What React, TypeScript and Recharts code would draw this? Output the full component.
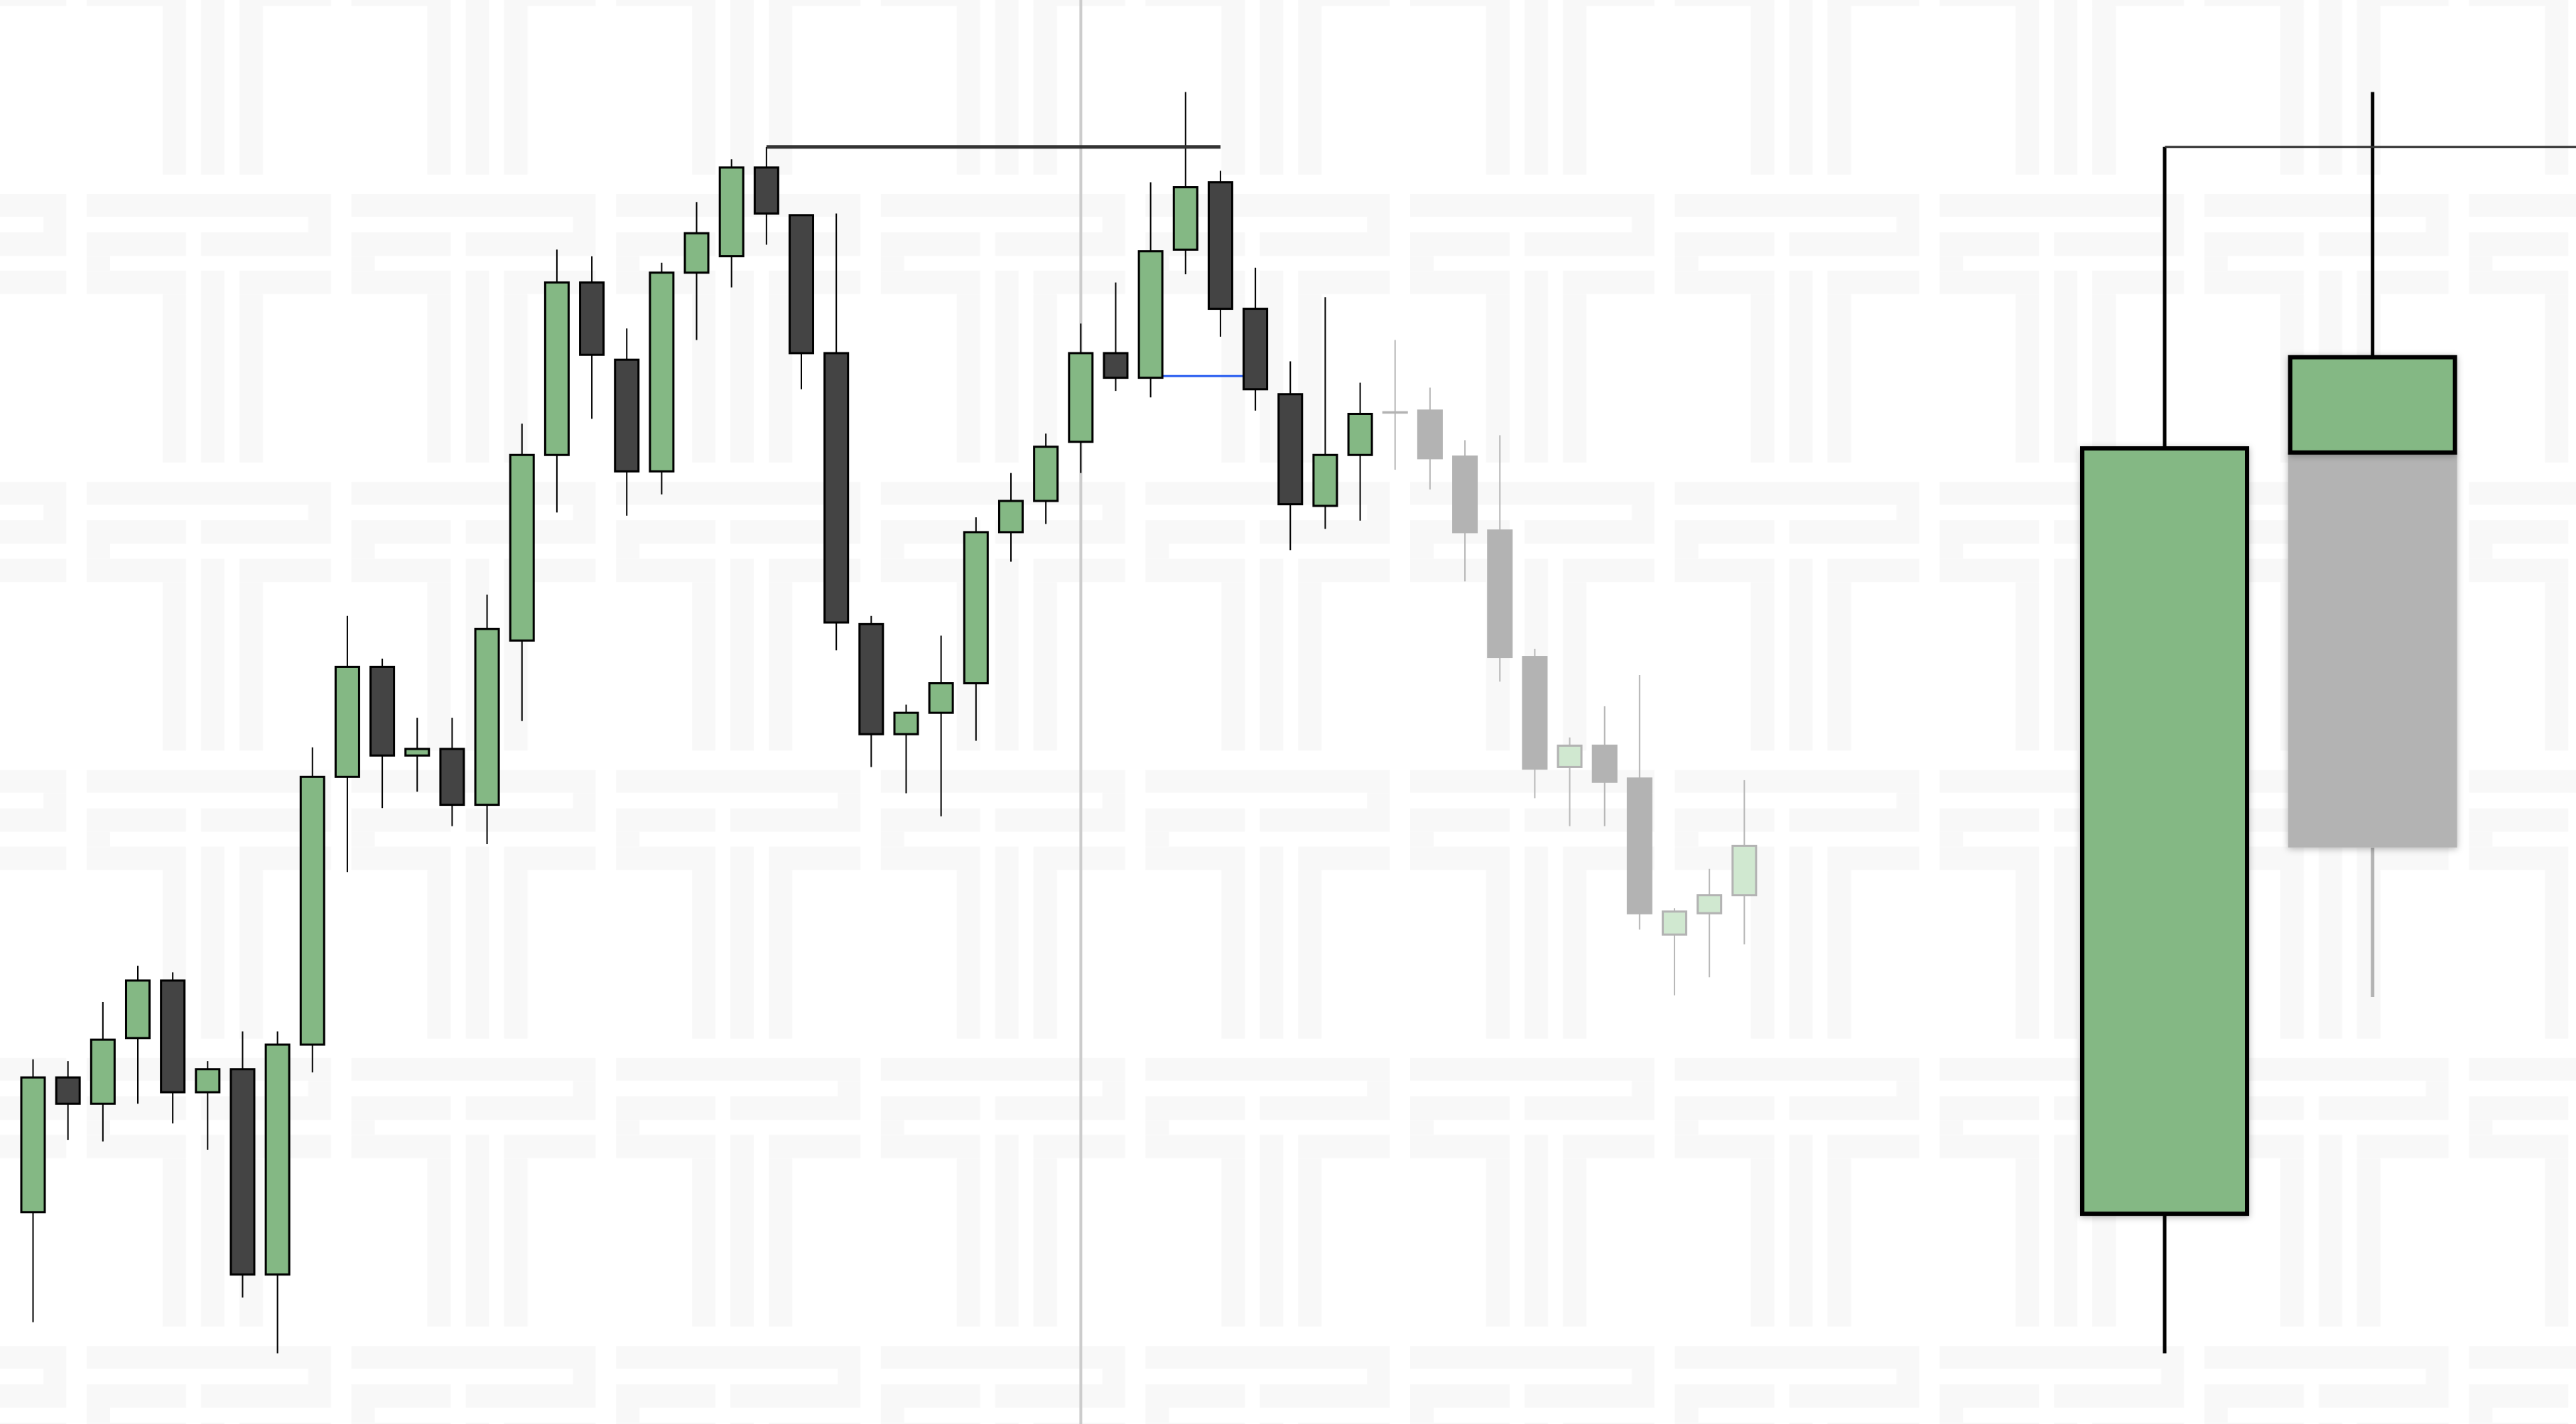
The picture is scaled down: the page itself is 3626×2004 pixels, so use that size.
import React from "react";
import { ComposedChart, Bar, Line, XAxis, YAxis, ReferenceLine } from "recharts";

// price scale shared by both panels (no visible axis in the picture)
const priceMin = 50;
const priceMax = 136.7;

// ---- left panel: 50 candles ----
const opens = [
  62.9, 71.1, 69.5, 73.5, 77.0, 70.2, 71.6, 59.1, 73.1, 89.4,
  96.1, 90.7, 91.1, 87.7, 97.7, 109.0, 119.5, 114.8, 108.0, 120.1,
  121.1, 126.5, 123.6, 115.2, 98.7, 92.0, 93.3, 95.1, 104.3, 106.2,
  109.8, 115.2, 113.7, 121.5, 125.6, 117.9, 112.7, 105.9, 109.0, 111.6,
  111.7, 108.9, 104.4, 96.7, 90.0, 91.3, 89.3, 79.8, 81.1, 82.2,
];
const highs = [
  72.2, 72.1, 75.7, 77.9, 77.5, 72.1, 73.9, 73.9, 91.2, 99.2,
  96.6, 93.0, 93.0, 100.5, 110.9, 121.5, 121.1, 116.7, 120.7, 124.4,
  127.0, 127.75, 123.6, 123.7, 99.2, 93.8, 98.0, 105.2, 107.9, 110.3,
  117.0, 119.5, 125.6, 131.1, 126.3, 120.4, 114.7, 118.6, 113.4, 116.0,
  113.1, 109.9, 110.2, 97.2, 91.8, 93.7, 95.6, 81.4, 83.8, 89.2,
];
const lows = [
  56.2, 67.3, 67.2, 69.5, 68.3, 66.7, 57.7, 54.3, 71.4, 83.6,
  87.5, 88.5, 86.4, 85.3, 92.8, 105.5, 111.2, 105.3, 106.6, 116.0,
  119.2, 121.8, 113.0, 97.1, 90.0, 88.4, 87.0, 91.6, 102.5, 104.8,
  107.9, 112.9, 112.5, 120.0, 116.2, 111.7, 103.2, 104.5, 105.0, 108.1,
  106.9, 101.3, 95.2, 88.1, 86.4, 86.4, 80.1, 76.1, 77.2, 79.2,
];
const closes = [
  71.1, 69.5, 73.4, 77.0, 70.2, 71.6, 59.1, 73.1, 89.4, 96.1,
  90.7, 91.1, 87.7, 98.4, 109.0, 119.5, 115.1, 108.0, 120.1, 122.5,
  126.5, 123.7, 115.2, 98.8, 92.0, 93.3, 95.1, 104.3, 106.2, 109.5,
  115.2, 113.7, 121.4, 125.3, 117.9, 113.0, 106.0, 109.0, 111.5, 111.6,
  108.8, 104.3, 96.7, 89.9, 91.3, 89.1, 81.1, 81.2, 82.2, 85.2,
];
const labels = opens.map((_, i) => String(i + 1));

const projectionFrom = 40; // faded candles from here on
const markerCandle = "31"; // vertical grey line
const resistance = { from: 22, to: 35, level: 127.75 };
const blueLevel = { from: 33, to: 36, level: 113.8 };

// ---- right panel: two large candles ----
const bigLabels = ["prev", "curr", "pad"];
const bigOpen = [62.8, 109.15, null];
const bigHigh = [127.75, 131.1, null];
const bigLow = [54.3, 109.15, null];
const bigClose = [109.4, 114.95, null];
const bigProjBodyLow = [null, 85.1, null];
const bigProjLow = [null, 76.0, null];
const bigLevel = [127.75, 127.75, 127.75];

const GREEN = "#84b884";
const DARK = "#444444";
const FADED_GREEN = "#d0e8d0";
const FADED_GREY = "#b3b3b3";

const candles = labels.map((t, i) => {
  const n = i + 1;
  return {
    t,
    o: opens[i],
    h: highs[i],
    l: lows[i],
    c: closes[i],
    projected: n >= projectionFrom,
    res: n >= resistance.from && n <= resistance.to ? resistance.level : null,
    blue: n >= blueLevel.from && n <= blueLevel.to ? blueLevel.level : null,
  };
});

const bigCandles = bigLabels.map((t, i) => ({
  t,
  o: bigOpen[i],
  h: bigHigh[i],
  l: bigLow[i],
  c: bigClose[i],
  pbl: bigProjBodyLow[i],
  pl: bigProjLow[i],
  level: bigLevel[i],
}));

// watermark tile (decoration only)
const wmRects: [number, number, number, number][] = [
  [0, 0, 344, 32],
  [312, 32, 32, 22],
  [0, 54, 140, 33],
  [161, 54, 183, 33],
  [0, 87, 33, 21],
  [0, 108, 140, 33],
  [107, 141, 33, 237],
  [161, 108, 33, 270],
  [215, 108, 129, 33],
  [215, 141, 33, 237],
];

function CandleShape(props: any) {
  const { x, y, width, height, payload } = props;
  if (!payload || height == null || isNaN(y)) return null;
  const { o, h, l, c, projected } = payload;
  const span = h - l || 1;
  const py = (v: number) => y + ((h - v) / span) * height;
  const cx = x + width / 2;
  const up = c >= o;
  const top = py(Math.max(o, c));
  const bottom = py(Math.min(o, c));
  const fill = projected ? (up ? FADED_GREEN : FADED_GREY) : up ? GREEN : DARK;
  const stroke = projected ? FADED_GREY : "#000";
  const wick = projected ? "#b8b8b8" : "#000";
  return (
    <g>
      <line x1={cx} x2={cx} y1={y} y2={y + height} stroke={wick} strokeWidth={2} />
      <rect x={x} y={top} width={width} height={Math.max(bottom - top, 0.5)} fill={fill} stroke={stroke} strokeWidth={3} />
    </g>
  );
}

function BigCandleShape(props: any) {
  const { x, y, width, height, payload } = props;
  if (!payload || payload.o == null || isNaN(y)) return null;
  const { o, h, c, l, pbl, pl } = payload;
  const lo = pl != null ? Math.min(l, pl) : l;
  const span = h - lo || 1;
  const py = (v: number) => y + ((h - v) / span) * height;
  const cx = x + width / 2;
  const top = py(Math.max(o, c));
  const bottom = py(Math.min(o, c));
  const bw = 6;
  return (
    <g>
      {pl != null && (
        <line x1={cx} x2={cx} y1={py(pbl)} y2={py(pl)} stroke={FADED_GREY} strokeWidth={5} />
      )}
      {pbl != null && (
        <rect
          x={x - bw / 2}
          y={bottom}
          width={width + bw}
          height={py(pbl) - bottom}
          fill={FADED_GREY}
          filter="url(#bigShadow)"
        />
      )}
      <line x1={cx} x2={cx} y1={py(h)} y2={py(l)} stroke="#000" strokeWidth={5} />
      <rect
        x={x}
        y={top}
        width={width}
        height={bottom - top}
        fill={c >= o ? GREEN : DARK}
        stroke="#000"
        strokeWidth={bw}
        filter="url(#bigShadow)"
      />
    </g>
  );
}

const NoShape = () => <g />;
const candleRange = (d: any) => [d.l, d.h];
const leftMargin = { top: 0, right: 22, bottom: 0, left: 22 };

export default function App() {
  return (
    <div
      style={{
        position: "fixed",
        left: 0,
        top: 0,
        width: 3626,
        height: 2004,
        overflow: "hidden",
        background: "#ffffff",
      }}
    >
      <svg width={3626} height={2004} style={{ position: "absolute", left: 0, top: 0 }}>
        <defs>
          <pattern id="wm" x={122} y={273} width={372.6} height={405.3} patternUnits="userSpaceOnUse">
            {wmRects.map(([rx, ry, rw, rh], i) => (
              <rect key={i} x={rx} y={ry} width={rw} height={rh} fill="#f8f8f8" />
            ))}
          </pattern>
        </defs>
        <rect x={0} y={0} width={3626} height={2004} fill="url(#wm)" />
      </svg>

      {/* underlay: marks that sit behind the candles */}
      <div style={{ position: "absolute", left: 0, top: 0 }}>
        <ComposedChart width={2502} height={2004} data={candles} margin={leftMargin}>
          <XAxis dataKey="t" hide />
          <YAxis hide domain={[priceMin, priceMax]} allowDataOverflow />
          <Bar dataKey={candleRange} barSize={33} shape={<NoShape />} isAnimationActive={false} />
          <ReferenceLine x={markerCandle} stroke="#cccccc" strokeWidth={4} />
          <Line
            dataKey="blue"
            stroke="#2a5ef0"
            strokeWidth={3}
            dot={false}
            activeDot={false}
            isAnimationActive={false}
          />
        </ComposedChart>
      </div>

      <div style={{ position: "absolute", left: 0, top: 0 }}>
        <ComposedChart width={2502} height={2004} data={candles} margin={leftMargin}>
          <XAxis dataKey="t" hide />
          <YAxis hide domain={[priceMin, priceMax]} allowDataOverflow />
          <Bar dataKey={candleRange} barSize={33} shape={<CandleShape />} isAnimationActive={false} />
          <Line
            dataKey="res"
            stroke="#333333"
            strokeWidth={5}
            dot={false}
            activeDot={false}
            isAnimationActive={false}
          />
        </ComposedChart>
      </div>

      <div style={{ position: "absolute", left: 2901, top: 0 }}>
        <ComposedChart
          width={878}
          height={2004}
          data={bigCandles}
          margin={{ top: 0, right: 0, bottom: 0, left: 0 }}
        >
          <defs>
            <filter id="bigShadow" x="-20%" y="-20%" width="140%" height="140%">
              <feDropShadow dx={0} dy={2} stdDeviation={5} floodColor="#000" floodOpacity={0.28} />
            </filter>
          </defs>
          <XAxis dataKey="t" hide />
          <YAxis hide domain={[priceMin, priceMax]} allowDataOverflow />
          <Bar
            dataKey={(d: any) => (d.o == null ? null : [d.pl != null ? Math.min(d.l, d.pl) : d.l, d.h])}
            barSize={232}
            shape={<BigCandleShape />}
            isAnimationActive={false}
          />
          <Line
            dataKey="level"
            stroke="#333333"
            strokeWidth={3}
            dot={false}
            activeDot={false}
            isAnimationActive={false}
          />
        </ComposedChart>
      </div>
    </div>
  );
}
